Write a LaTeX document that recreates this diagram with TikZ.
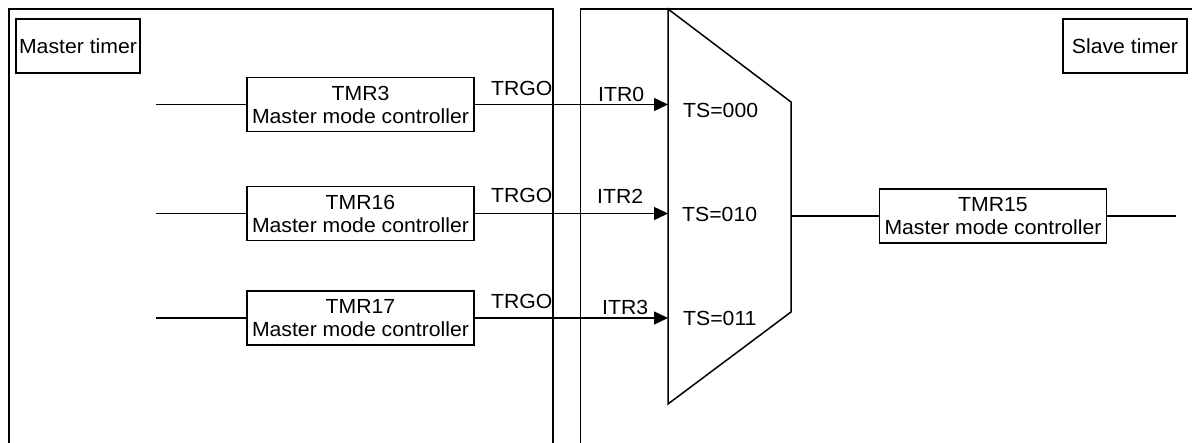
\documentclass[tikz,border=0pt]{standalone}
\usepackage{fontspec}
\setmainfont{Liberation Sans}[FakeStretch=1.04]
\usetikzlibrary{arrows.meta}
\begin{document}
\begin{tikzpicture}[x=1pt,y=-1pt,
  frame/.style={line width=1.8pt},
  ctrlbox/.style={draw,line width=1.5pt,minimum width=227pt,minimum height=54pt,inner sep=0pt,align=center,font=\fontsize{20.4}{23}\selectfont},
  tagbox/.style={draw,line width=1.5pt,minimum width=124pt,minimum height=54pt,inner sep=0pt,font=\fontsize{20.4}{23}\selectfont},
  lbl/.style={anchor=base west,inner sep=0pt,font=\fontsize{20.4}{23}\selectfont},
  wire/.style={line width=1.5pt},
  arr/.style={line width=1.5pt,-{Triangle[length=14pt,width=13pt]}}]
\useasboundingbox (0,0) rectangle (1192,443);
% frames
\draw[frame] (9,443) -- (9,9) -- (553,9) -- (553,443);
\draw[frame] (580.5,443) -- (580.5,9) -- (1192,9);
% title boxes
\node[tagbox] (mt) at (78,46) {Master timer};
\node[tagbox] (st) at (1125,46) {Slave timer};
% master controllers
\node[ctrlbox] (tmr3)  at (360.5,104.5) {TMR3\\Master mode controller};
\node[ctrlbox] (tmr16) at (360.5,213.5) {TMR16\\Master mode controller};
\node[ctrlbox] (tmr17) at (360.5,318)   {TMR17\\Master mode controller};
% slave controller
\node[ctrlbox] (tmr15) at (993,216) {TMR15\\Master mode controller};
% mux
\draw[line width=1.5pt] (668,9) -- (791,102) -- (791,312) -- (668,404) -- cycle;
\coordinate (in0) at (668,104.5);
\coordinate (in2) at (668,213.5);
\coordinate (in3) at (668,318);
\coordinate (mo) at (791,216);
% free ends
\coordinate (s3) at (156,104.5);
\coordinate (s16) at (156,213.5);
\coordinate (s17) at (156,318);
\coordinate (e15) at (1176,216);
% connectors
\draw[wire] (s3) -- (tmr3);
\draw[wire] (s16) -- (tmr16);
\draw[wire] (s17) -- (tmr17);
\draw[arr] (tmr3) -- (in0);
\draw[arr] (tmr16) -- (in2);
\draw[arr] (tmr17) -- (in3);
\draw[wire] (mo) -- (tmr15);
\draw[wire] (tmr15) -- (e15);
% labels
\node[lbl] (g0) at (491,96) {TRGO};
\node[lbl] (g2) at (491,203) {TRGO};
\node[lbl] (g3) at (491,309) {TRGO};
\node[lbl] (i0) at (598,102) {ITR0};
\node[lbl] (i2) at (597,204) {ITR2};
\node[lbl] (i3) at (602,315) {ITR3};
\node[lbl] (t0) at (683,118) {TS=000};
\node[lbl] (t2) at (682,222) {TS=010};
\node[lbl] (t3) at (683,326) {TS=011};
\end{tikzpicture}
\end{document}
